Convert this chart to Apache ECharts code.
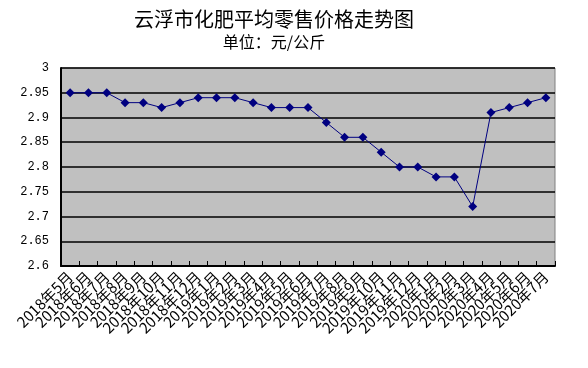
<!DOCTYPE html>
<html><head><meta charset="utf-8">
<script src="https://cdn.jsdelivr.net/npm/echarts@6/dist/echarts.min.js"></script>
<style>html,body{margin:0;padding:0;background:#fff}#c{width:588px;height:368px}</style>
</head><body><div id="c"></div>
<script>
var categories = ['2018年5月','2018年6月','2018年7月','2018年8月','2018年9月','2018年10月','2018年11月','2018年12月',
'2019年1月','2019年2月','2019年3月','2019年4月','2019年5月','2019年6月','2019年7月','2019年8月','2019年9月','2019年10月','2019年11月','2019年12月',
'2020年1月','2020年2月','2020年3月','2020年4月','2020年5月','2020年6月','2020年7月'];
var prices = [2.95,2.95,2.95,2.93,2.93,2.92,2.93,2.94,2.94,2.94,2.93,2.92,2.92,2.92,2.89,2.86,2.86,2.83,2.80,2.80,2.78,2.78,2.72,2.91,2.92,2.93,2.94];
var titleText = '云浮市化肥平均零售价格走势图';
var subText = '单位：元/公斤';
var chart = echarts.init(document.getElementById('c'));
var font = '"Noto Sans CJK SC", sans-serif';
chart.setOption({
  animation:false,
  title:{text:titleText, subtext:subText, left:269, textAlign:'center', top:4, itemGap:5,
    textStyle:{fontSize:20,fontWeight:'normal',color:'#000',fontFamily:font},
    subtextStyle:{fontSize:16,color:'#000',fontFamily:font}},
  grid:{left:61,right:33,top:68,bottom:102,show:true,backgroundColor:'#C0C0C0',borderColor:'#808080',borderWidth:1},
  xAxis:{type:'category',data:categories,boundaryGap:true,
    axisLine:{lineStyle:{color:'#000',width:2}},
    axisTick:{show:true,inside:true,length:5,alignWithLabel:false,lineStyle:{color:'#000'}},
    axisLabel:{interval:0,rotate:45,fontSize:15,color:'#000',fontFamily:font,margin:8}},
  yAxis:{type:'value',min:2.6,max:3,interval:0.05,
    axisLine:{show:true,lineStyle:{color:'#000',width:2}},
    axisTick:{show:false},
    splitLine:{lineStyle:{color:'#000',width:1.5}},
    axisLabel:{fontSize:12,color:'#000',fontFamily:'"Liberation Mono", monospace',margin:12,
      formatter:function(v){return String(Math.round(v*100)/100);}}},
  series:[{type:'line',data:prices,symbol:'diamond',symbolSize:9,
    lineStyle:{color:'#000080',width:1},itemStyle:{color:'#000080'}}]
});
</script></body></html>
